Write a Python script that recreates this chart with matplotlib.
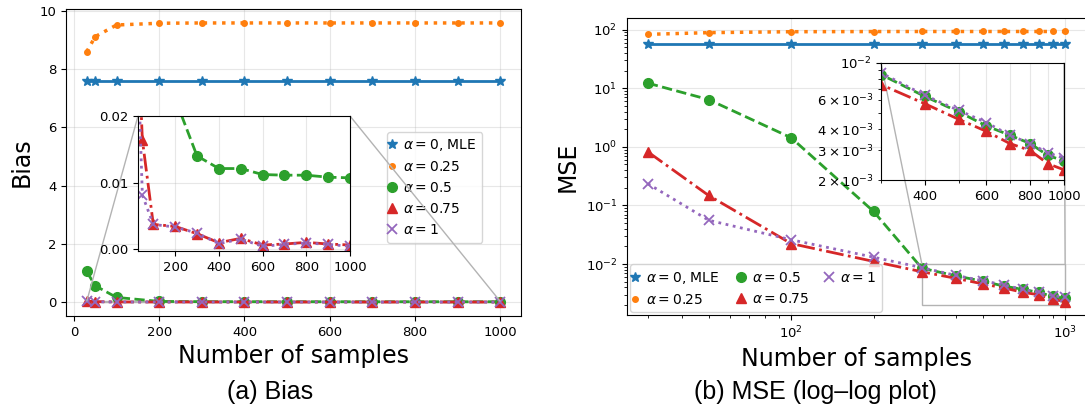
import numpy as np
import matplotlib
matplotlib.use("Agg")
import matplotlib.pyplot as plt
from matplotlib.ticker import ScalarFormatter, NullFormatter
from mpl_toolkits.axes_grid1.inset_locator import mark_inset

# sample sizes
n_samples = [30, 50, 100, 200, 300, 400, 500, 600, 700, 800, 900, 1000]

# bias per alpha
bias_a0 = [7.6] * 12
bias_a025 = [8.60, 9.12, 9.52, 9.58, 9.59, 9.59, 9.59, 9.59, 9.59, 9.59, 9.59, 9.59]
bias_a05 = [1.05, 0.56, 0.16, 0.0226, 0.0140, 0.0121, 0.0121, 0.0112, 0.0111, 0.0111, 0.0108, 0.0107]
bias_a075 = [0.032, 0.0164, 0.0037, 0.0034, 0.0023, 0.00095, 0.0016, 0.0006, 0.00075, 0.0010, 0.00075, 0.0006]
bias_a1 = [0.028, 0.0081, 0.0037, 0.0033, 0.0024, 0.0008, 0.0015, 0.0004, 0.0007, 0.0009, 0.0007, 0.0004]

# mse per alpha
mse_a0 = [57.5] * 12
mse_a025 = [83.0, 88.7, 92.0, 92.6, 92.8, 92.8, 92.8, 92.8, 92.8, 92.8, 92.8, 92.8]
mse_a05 = [12.2, 6.4, 1.43, 0.079, 0.0085, 0.0063, 0.0051, 0.0042, 0.0037, 0.0033, 0.0028, 0.0026]
mse_a075 = [0.82, 0.148, 0.0224, 0.0111, 0.0074, 0.0057, 0.0046, 0.0039, 0.0033, 0.0030, 0.0025, 0.0023]
mse_a1 = [0.235, 0.056, 0.026, 0.0131, 0.0087, 0.0064, 0.0052, 0.0044, 0.0037, 0.0033, 0.0029, 0.0027]

labels = [r'$\alpha=0$, MLE', r'$\alpha=0.25$', r'$\alpha=0.5$', r'$\alpha=0.75$', r'$\alpha=1$']
styles = [
    dict(color='C0', ls='-', marker='*', ms=7, lw=2),
    dict(color='C1', ls=':', marker='.', ms=8, lw=2.5),
    dict(color='C2', ls='--', marker='o', ms=7, lw=2),
    dict(color='C3', ls='-.', marker='^', ms=7, lw=2),
    dict(color='C4', ls=':', marker='x', ms=7, lw=2, mew=1.3),
]

TICK = 9.5
LABEL = 17


def draw_series(ax, series):
    for vals, lab, st in zip(series, labels, styles):
        ax.plot(n_samples, vals, label=lab, **st)


fig = plt.figure(figsize=(10.85, 4.15), dpi=100)

# ---- (a) Bias ----
ax1 = fig.add_axes([66 / 1085, 1 - 316 / 415, 455 / 1085, 307 / 415])
bias = [bias_a0, bias_a025, bias_a05, bias_a075, bias_a1]
draw_series(ax1, bias)
ax1.grid(True, alpha=0.3)
ax1.tick_params(labelsize=TICK)
ax1.set_xlabel('Number of samples', fontsize=LABEL)
ax1.set_ylabel('Bias', fontsize=LABEL)
ax1.legend(loc='upper left', bbox_to_anchor=(0.705, 0.6), borderaxespad=0,
           handlelength=0, fontsize=10)

ins1 = fig.add_axes([138 / 1085, 1 - 251 / 415, 212 / 1085, 135 / 415])
draw_series(ins1, bias)
ins1.set_xlim(30, 1000)
ins1.set_ylim(-0.0003, 0.02)
ins1.set_xticks([200, 400, 600, 800, 1000])
ins1.set_yticks([0.0, 0.01, 0.02])
ins1.grid(True, alpha=0.3)
ins1.tick_params(labelsize=TICK)
mark_inset(ax1, ins1, loc1=1, loc2=2, fc='none', ec='0.7', lw=1)

# ---- (b) MSE ----
ax2 = fig.add_axes([627 / 1085, 1 - 315 / 415, 459 / 1085, 297 / 415])
mse = [mse_a0, mse_a025, mse_a05, mse_a075, mse_a1]
draw_series(ax2, mse)
ax2.set_xscale('log')
ax2.set_yscale('log')
ax2.grid(True, alpha=0.3)
ax2.tick_params(labelsize=TICK)
ax2.set_xlabel('Number of samples', fontsize=LABEL)
ax2.set_ylabel('MSE', fontsize=LABEL)
ax2.legend(loc='lower left', ncol=3, borderaxespad=0.2, handlelength=0,
           columnspacing=1.5, fontsize=10)

ins2 = fig.add_axes([881 / 1085, 1 - 180 / 415, 183 / 1085, 117.3 / 415])
draw_series(ins2, mse)
ins2.set_xscale('log')
ins2.set_yscale('log')
ins2.set_xlim(300, 1000)
ins2.set_ylim(2e-3, 1e-2)
ins2.set_xticks([400, 600, 800, 1000])
ins2.set_xticks([300, 500, 700, 900], minor=True)
ins2.xaxis.set_major_formatter(ScalarFormatter())
ins2.xaxis.set_minor_formatter(NullFormatter())
ins2.grid(True, axis='x', which='both', alpha=0.3)
ins2.tick_params(which='both', labelsize=TICK)
mark_inset(ax2, ins2, loc1=1, loc2=2, fc='none', ec='0.7', lw=1)

# captions
fig.text(270 / 1085, 0.055, '(a) Bias', ha='center', va='center',
         fontsize=18, family='Liberation Sans')
fig.text(815 / 1085, 0.055, '(b) MSE (log\u2013log plot)', ha='center', va='center',
         fontsize=18, family='Liberation Sans')

fig.savefig('out.png', dpi=100)
